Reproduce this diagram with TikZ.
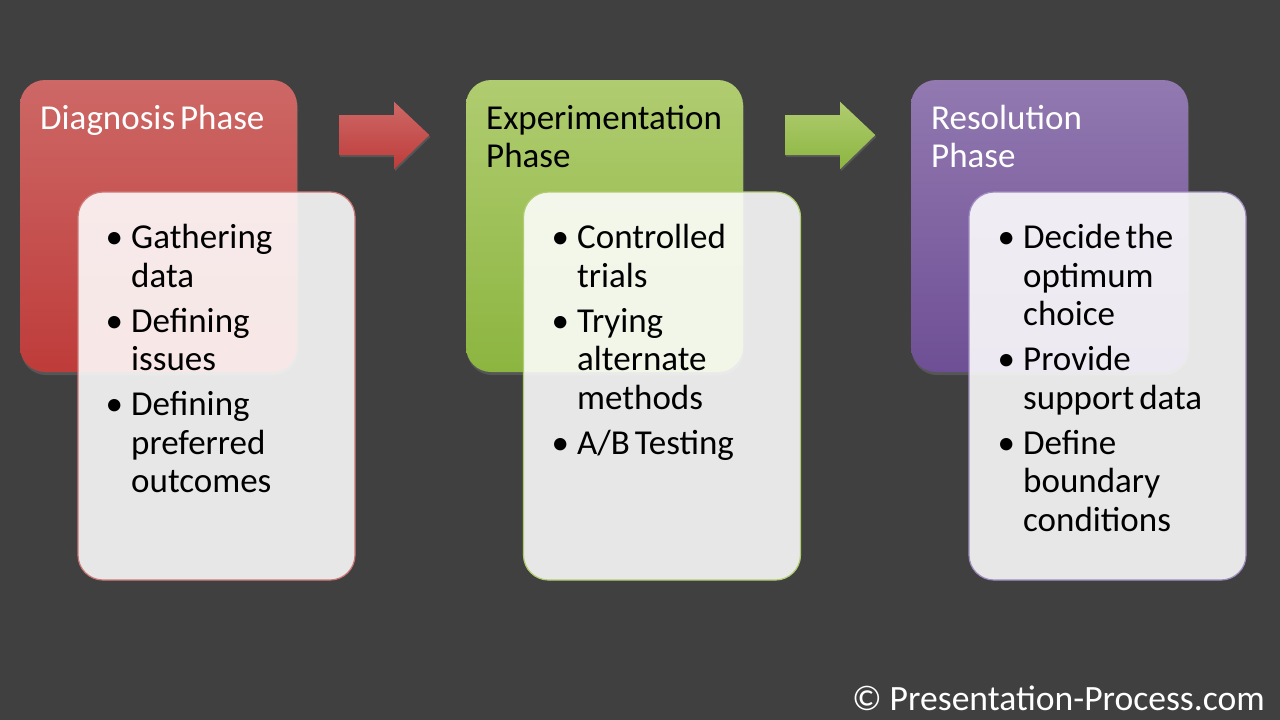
\documentclass[tikz,border=0pt]{standalone}
\usepackage{fontspec}
\setmainfont{Carlito}
\usetikzlibrary{shadows}
\definecolor{bg}{RGB}{64,64,64}
\definecolor{redT}{RGB}{205,104,102}
\definecolor{redB}{RGB}{190,60,58}
\definecolor{redL}{RGB}{205,120,118}
\definecolor{grnT}{RGB}{176,204,112}
\definecolor{grnB}{RGB}{140,181,64}
\definecolor{grnL}{RGB}{176,204,112}
\definecolor{purT}{RGB}{146,121,176}
\definecolor{purB}{RGB}{110,79,149}
\definecolor{purL}{RGB}{160,140,190}
\newcommand\bitem[1]{\hangindent=27pt\hangafter=1\noindent\makebox[27pt][l]{\hspace{1.5pt}•}#1\par}
\tikzset{
  phasebox/.style={rounded corners=25pt, minimum width=277pt, minimum height=292pt,
    inner sep=0pt, drop shadow={opacity=0.35, shadow xshift=1pt, shadow yshift=-3pt}},
  listbox/.style={rounded corners=25pt, minimum width=277pt, minimum height=388pt,
    inner sep=0pt, fill=white, fill opacity=0.88, line width=1.2pt},
  blockarrow/.style={drop shadow={opacity=0.35, shadow xshift=1pt, shadow yshift=-2pt}},
  titletext/.style={anchor=base west, inner sep=0pt, text width=260pt,
    font=\fontsize{35}{38.5}\selectfont, execute at begin node={\spaceskip=0.14em\relax}},
  listtext/.style={anchor=base west, inner sep=0pt, text width=235pt, text=black,
    font=\fontsize{35}{38.5}\selectfont,
    execute at begin node={\setlength\parskip{6.5pt}\spaceskip=0.14em\relax}},
}
\begin{document}
\begin{tikzpicture}[x=1pt,y=-1pt]
\fill[bg] (0,0) rectangle (1280,720);
\useasboundingbox (0,0) rectangle (1280,720);

% phase boxes
\node[phasebox, top color=redT, bottom color=redB] (p1) at (158.5,226) {};
\node[phasebox, top color=grnT, bottom color=grnB] (p2) at (604.5,226) {};
\node[phasebox, top color=purT, bottom color=purB] (p3) at (1049.5,226) {};

% arrows
\shade[blockarrow, top color=redT, bottom color=redB]
  (339,115) -- (394,115) -- (394,101.7) -- (429.3,135) -- (394,169.3) -- (394,155) -- (339,155) -- cycle;
\shade[blockarrow, top color=grnT, bottom color=grnB]
  (785,115) -- (840,115) -- (840,101.7) -- (875.3,135) -- (840,169.3) -- (840,155) -- (785,155) -- cycle;

% titles
\node[titletext, text=white] (t1) at (40,129) {Diagnosis Phase};
\node[titletext, text=black] (t2) at (486,129) {Experimentation\newline Phase};
\node[titletext, text=white] (t3) at (931,129) {Resolution\newline Phase};

% list boxes
\node[listbox, draw=redL] (b1) at (216.5,386) {};
\node[listbox, draw=grnL] (b2) at (662,386) {};
\node[listbox, draw=purL] (b3) at (1107.5,386) {};

% list texts
\node[listtext] (l1) at (104,248.5) {\bitem{Gathering\newline data}\bitem{Defining\newline issues}\bitem{Defining\newline preferred\newline outcomes}};
\node[listtext] (l2) at (550,248.5) {\bitem{Controlled\newline trials}\bitem{Trying\newline alternate\newline methods}\bitem{A/B Testing}};
\node[listtext] (l3) at (996,248.5) {\bitem{Decide the\newline optimum\newline choice}\bitem{Provide\newline support data}\bitem{Define\newline boundary\newline conditions}};

% copyright
\node[anchor=base east, inner sep=0pt, text=white, font=\fontsize{35.6}{38.5}\selectfont] (cr) at (1265,710) {© Presentation-Process.com};
\end{tikzpicture}
\end{document}
